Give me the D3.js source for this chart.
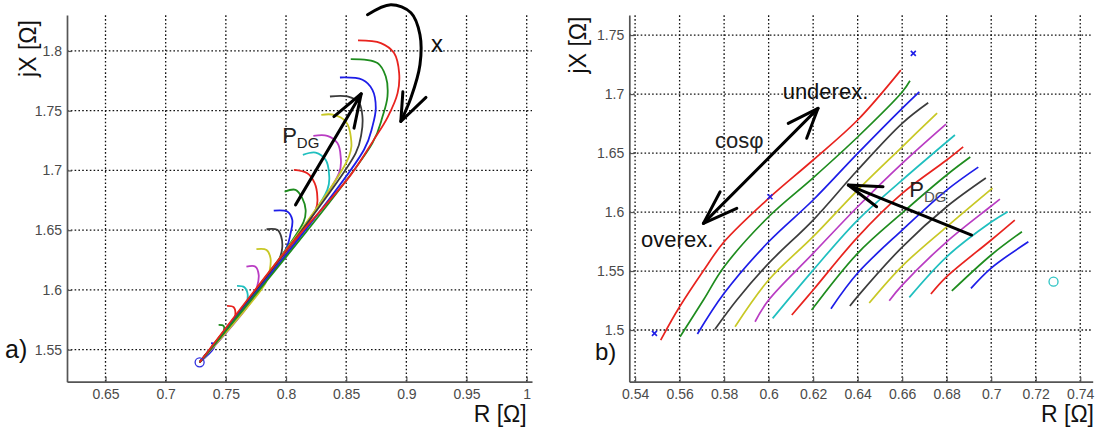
<!DOCTYPE html>
<html>
<head>
<meta charset="utf-8">
<script src="https://cdn.jsdelivr.net/npm/d3@7"></script>
<style>
  body { margin: 0; background: #fff; }
  svg { font-family: "Liberation Sans", Arial, sans-serif; }
</style>
</head>
<body>
<svg id="chart" width="1096" height="428"></svg>
<script>
// Impedance trajectories, panel a) and b)

// Tick values for both panels
var xTicksA = [0.65, 0.7, 0.75, 0.8, 0.85, 0.9, 0.95, 1];
var yTicksA = [1.55, 1.6, 1.65, 1.7, 1.75, 1.8];
var xTicksB = [0.54, 0.56, 0.58, 0.6, 0.62, 0.64, 0.66, 0.68, 0.7, 0.72, 0.74];
var yTicksB = [1.5, 1.55, 1.6, 1.65, 1.7, 1.75];

// axis limits
var xLimA = [0.618, 1.0044];
var yLimA = [1.5232, 1.8301];
var xLimB = [0.5374, 0.7456];
var yLimB = [1.4562, 1.767];

// matlab colour order r g b k y m c
var lineColors = ["#e8231e", "#1e8c1e", "#1d1de8", "#3c3c3c", "#c8c825", "#b93cc3", "#1fbfbf"];

// panel a) : common start point, then each curve [R, X]
var startA = [0.7282, 1.5394];
var curvesA = [
  [[0.8038, 1.6377], [0.8329, 1.6712], [0.8538, 1.6963], [0.8729, 1.7256], [0.8846, 1.7449], [0.8927, 1.7647], [0.8940, 1.7815], [0.8898, 1.7982], [0.8788, 1.8066], [0.8598, 1.8088]],
  [[0.8718, 1.7229], [0.8802, 1.7451], [0.8843, 1.7619], [0.8829, 1.7786], [0.8760, 1.7899], [0.8538, 1.7932]],
  [[0.8648, 1.7173], [0.8718, 1.7368], [0.8746, 1.7522], [0.8718, 1.7675], [0.8635, 1.7759], [0.8448, 1.7778]],
  [[0.8579, 1.7145], [0.8627, 1.7312], [0.8635, 1.7451], [0.8607, 1.7564], [0.8510, 1.7619], [0.8365, 1.7619]],
  [[0.8523, 1.7116], [0.8538, 1.7284], [0.8496, 1.7410], [0.8398, 1.7466], [0.8293, 1.7466]],
  [[0.8440, 1.6977], [0.8454, 1.7116], [0.8427, 1.7229], [0.8343, 1.7290], [0.8227, 1.7290]],
  [[0.8343, 1.6838], [0.8357, 1.6977], [0.8329, 1.7089], [0.8246, 1.7150], [0.8140, 1.7131]],
  [[0.8246, 1.6670], [0.8260, 1.6781], [0.8238, 1.6894], [0.8177, 1.6977], [0.8065, 1.7005]],
  [[0.8146, 1.6570], [0.8163, 1.6670], [0.8135, 1.6768], [0.8079, 1.6838], [0.7988, 1.6823]],
  [[0.7996, 1.6335], [0.8038, 1.6475], [0.8052, 1.6586], [0.8010, 1.6656], [0.7898, 1.6664]],
  [[0.7940, 1.6251], [0.7968, 1.6349], [0.7960, 1.6446], [0.7927, 1.6503], [0.7838, 1.6508]],
  [[0.7829, 1.6056], [0.7865, 1.6168], [0.7871, 1.6266], [0.7838, 1.6335], [0.7754, 1.6341]],
  [[0.7718, 1.5916], [0.7760, 1.6028], [0.7773, 1.6126], [0.7746, 1.6195], [0.7671, 1.6195]],
  [[0.7663, 1.5860], [0.7682, 1.5958], [0.7654, 1.6023], [0.7593, 1.6034]],
  [[0.7552, 1.5721], [0.7579, 1.5791], [0.7565, 1.5855], [0.7510, 1.5866]],
  [[0.7468, 1.5623], [0.7482, 1.5651], [0.7482, 1.5698], [0.7440, 1.5707]],
  [[0.7398, 1.5512], [0.7404, 1.5548], [0.7377, 1.5554]]
];

// panel b) curves [R, X]
var curvesB = [
  [[0.5515, 1.4915], [0.56, 1.5197], [0.5707, 1.5503], [0.58, 1.5748], [0.60, 1.6116], [0.62, 1.6441], [0.64, 1.6780], [0.6594, 1.7203]],
  [[0.5602, 1.4943], [0.5707, 1.5254], [0.58, 1.5536], [0.60, 1.5960], [0.62, 1.6290], [0.64, 1.6636], [0.66, 1.7017], [0.6635, 1.7113]],
  [[0.5680, 1.4966], [0.58, 1.5311], [0.60, 1.5748], [0.62, 1.6102], [0.64, 1.6497], [0.66, 1.6879], [0.6677, 1.7019]],
  [[0.5759, 1.5006], [0.5857, 1.5254], [0.60, 1.5565], [0.62, 1.5932], [0.64, 1.6356], [0.66, 1.6752], [0.6717, 1.6926]],
  [[0.5849, 1.5028], [0.60, 1.5424], [0.62, 1.5791], [0.64, 1.6186], [0.66, 1.6553], [0.6757, 1.6839]],
  [[0.5939, 1.5070], [0.60, 1.5254], [0.62, 1.5650], [0.64, 1.6045], [0.66, 1.6413], [0.6797, 1.6746]],
  [[0.6018, 1.5099], [0.62, 1.5508], [0.64, 1.5932], [0.66, 1.6271], [0.6837, 1.6653]],
  [[0.6104, 1.5127], [0.62, 1.5339], [0.64, 1.5788], [0.66, 1.6158], [0.68, 1.6441], [0.6874, 1.6553]],
  [[0.6193, 1.5169], [0.64, 1.5650], [0.66, 1.5992], [0.68, 1.6314], [0.6906, 1.6466]],
  [[0.6280, 1.5181], [0.64, 1.5483], [0.66, 1.5847], [0.68, 1.6186], [0.6942, 1.6381]],
  [[0.6365, 1.5203], [0.64, 1.5285], [0.66, 1.5703], [0.68, 1.6045], [0.6976, 1.6288]],
  [[0.6452, 1.5229], [0.66, 1.5542], [0.68, 1.5875], [0.7006, 1.6203]],
  [[0.6542, 1.5248], [0.66, 1.5380], [0.68, 1.5748], [0.70, 1.6051], [0.7039, 1.6110]],
  [[0.6632, 1.5277], [0.68, 1.5621], [0.70, 1.5915], [0.7074, 1.6003]],
  [[0.6729, 1.5305], [0.68, 1.5452], [0.70, 1.5763], [0.7106, 1.5932]],
  [[0.6823, 1.5331], [0.70, 1.5636], [0.7138, 1.5833]],
  [[0.6909, 1.5353], [0.70, 1.5525], [0.7167, 1.5748]]
];

// markers in panel b)
var crossesB = [[0.5487, 1.4972], [0.6006, 1.6130], [0.6650, 1.7345]];
var circleB = [0.7280, 1.5410];

// annotation arrows, in data units of each panel
var arrowPdgA = [[0.8079, 1.6712], [0.8625, 1.7642]];
var arrowPdgHeadA = [[0.8398, 1.7451], [0.8625, 1.7642], [0.8565, 1.7354]];
var arcXA = [[0.8677, 1.8303], [0.8871, 1.8387], [0.9038, 1.8320], [0.9113, 1.8136], [0.9113, 1.7885], [0.9038, 1.7608], [0.8954, 1.7410]];
var arcHeadA = [[0.8971, 1.7658], [0.8954, 1.7410], [0.9163, 1.7611]];
var arrowCosB = [[0.5707, 1.5904], [0.6222, 1.6879]];
var cosHeadUpB = [[0.6088, 1.6752], [0.6222, 1.6879], [0.6171, 1.6625]];
var cosHeadLowB = [[0.5782, 1.6172], [0.5707, 1.5904], [0.5857, 1.6031]];
var arrowPdgB = [[0.6912, 1.5805], [0.6358, 1.6229]];
var arrowPdgHeadB = [[0.6514, 1.6214], [0.6358, 1.6229], [0.6485, 1.6045]];

var svg = d3.select("#chart");

// scales
var xA = d3.scaleLinear().domain(xLimA).range([67, 532]);
var yA = d3.scaleLinear().domain(yLimA).range([381.7, 15]);
var xB = d3.scaleLinear().domain(xLimB).range([629.3, 1092.7]);
var yB = d3.scaleLinear().domain(yLimB).range([381.7, 15]);

// grid + axes for one panel
function drawFrame(x, y, xTicks, yTicks) {
  var grid = svg.append("g").attr("class", "grid");
  grid
    .selectAll(".gx")
    .data(xTicks)
    .enter()
    .append("line")
    .attr("x1", function(d) { return x(d); })
    .attr("x2", function(d) { return x(d); })
    .attr("y1", y.range()[0])
    .attr("y2", y.range()[1])
    .attr("stroke", "#111")
    .attr("stroke-width", 1.3)
    .attr("stroke-dasharray", "1.6,2.2");
  grid
    .selectAll(".gy")
    .data(yTicks)
    .enter()
    .append("line")
    .attr("x1", x.range()[0])
    .attr("x2", x.range()[1])
    .attr("y1", function(d) { return y(d); })
    .attr("y2", function(d) { return y(d); })
    .attr("stroke", "#111")
    .attr("stroke-width", 1.3)
    .attr("stroke-dasharray", "1.6,2.2");

  var ax = svg
    .append("g")
    .attr("transform", "translate(0," + y.range()[0] + ")")
    .call(d3.axisBottom(x).tickValues(xTicks).tickSize(-5).tickSizeOuter(0).tickPadding(7).tickFormat(d3.format("")));
  var ay = svg
    .append("g")
    .attr("transform", "translate(" + x.range()[0] + ",0)")
    .call(d3.axisLeft(y).tickValues(yTicks).tickSize(-5).tickSizeOuter(0).tickPadding(5).tickFormat(d3.format("")));
  [ax, ay].forEach(function(a) {
    a.attr("font-size", 14).attr("font-family", "Liberation Sans, Arial, sans-serif");
    a.select(".domain").attr("stroke", "#555").attr("stroke-width", 1.7);
    a.selectAll(".tick line").attr("stroke", "#555").attr("stroke-width", 1.2);
    a.selectAll(".tick text").attr("fill", "#4a4a4a");
  });
}

drawFrame(xA, yA, xTicksA, yTicksA);
drawFrame(xB, yB, xTicksB, yTicksB);

// line generators
var lineA = d3
  .line()
  .x(function(d) { return xA(d[0]); })
  .y(function(d) { return yA(d[1]); })
  .curve(d3.curveCatmullRom.alpha(0.5));

var lineB = d3
  .line()
  .x(function(d) { return xB(d[0]); })
  .y(function(d) { return yB(d[1]); })
  .curve(d3.curveCatmullRom.alpha(0.5));

// panel a) curves, drawn small ones first so red ends on top
svg
  .append("g")
  .selectAll("path")
  .data(curvesA.map(function(c, i) { return { pts: [startA].concat(c), i: i }; }).reverse())
  .enter()
  .append("path")
  .attr("d", function(d) { return lineA(d.pts); })
  .attr("fill", "none")
  .attr("stroke", function(d) { return lineColors[d.i % 7]; })
  .attr("stroke-width", 1.8);

svg
  .append("circle")
  .attr("cx", xA(startA[0]))
  .attr("cy", yA(startA[1]))
  .attr("r", 4.5)
  .attr("fill", "none")
  .attr("stroke", "#3030e0")
  .attr("stroke-width", 1.3);

// panel b) curves
svg
  .append("g")
  .selectAll("path")
  .data(curvesB)
  .enter()
  .append("path")
  .attr("d", function(d) { return lineB(d); })
  .attr("fill", "none")
  .attr("stroke", function(d, i) { return lineColors[i % 7]; })
  .attr("stroke-width", 1.7);

// blue crosses
svg
  .append("g")
  .selectAll("path")
  .data(crossesB)
  .enter()
  .append("path")
  .attr("d", function(d) {
    var cx = xB(d[0]), cy = yB(d[1]), s = 2.5;
    return "M" + (cx - s) + "," + (cy - s) + "L" + (cx + s) + "," + (cy + s) +
      "M" + (cx - s) + "," + (cy + s) + "L" + (cx + s) + "," + (cy - s);
  })
  .attr("stroke", "#2020e8")
  .attr("stroke-width", 1.6);

svg
  .append("circle")
  .attr("cx", xB(circleB[0]))
  .attr("cy", yB(circleB[1]))
  .attr("r", 4.5)
  .attr("fill", "none")
  .attr("stroke", "#2cc4c4")
  .attr("stroke-width", 1.3);

// annotation arrows
var straightA = d3.line().x(function(d) { return xA(d[0]); }).y(function(d) { return yA(d[1]); });
var straightB = d3.line().x(function(d) { return xB(d[0]); }).y(function(d) { return yB(d[1]); });

var arrowsA = [arrowPdgA, arrowPdgHeadA, arcHeadA];
var arrowsB = [arrowCosB, cosHeadUpB, cosHeadLowB, arrowPdgB, arrowPdgHeadB];

svg
  .append("g")
  .selectAll("path")
  .data(arrowsA)
  .enter()
  .append("path")
  .attr("d", straightA)
  .attr("fill", "none")
  .attr("stroke", "#000")
  .attr("stroke-width", 3)
  .attr("stroke-linecap", "round")
  .attr("stroke-linejoin", "round");

svg
  .append("path")
  .datum(arcXA)
  .attr("d", lineA)
  .attr("fill", "none")
  .attr("stroke", "#000")
  .attr("stroke-width", 3)
  .attr("stroke-linecap", "round");

svg
  .append("g")
  .selectAll("path")
  .data(arrowsB)
  .enter()
  .append("path")
  .attr("d", straightB)
  .attr("fill", "none")
  .attr("stroke", "#000")
  .attr("stroke-width", 3)
  .attr("stroke-linecap", "round")
  .attr("stroke-linejoin", "round");

// texts in panel a)
svg
  .append("text")
  .attr("x", xA(0.9204))
  .attr("y", yA(1.7993))
  .style("font-size", "24px")
  .attr("fill", "#111")
  .text("x");

var pA = svg
  .append("text")
  .attr("x", xA(0.7968))
  .attr("y", yA(1.7230))
  .style("font-size", "22px")
  .attr("fill", "#222")
  .text("P");
pA.append("tspan").attr("dy", 5).style("font-size", "15px").text("DG");

// texts in panel b)
svg.append("text").attr("x", xB(0.6063)).attr("y", yB(1.6955)).style("font-size", "22px").attr("fill", "#111").text("underex.");
svg.append("text").attr("x", xB(0.5759)).attr("y", yB(1.6540)).style("font-size", "22px").attr("fill", "#222").text("cosφ");
svg.append("text").attr("x", xB(0.5427)).attr("y", yB(1.5701)).style("font-size", "22px").attr("fill", "#111").text("overex.");

var pB = svg
  .append("text")
  .attr("x", xB(0.6632))
  .attr("y", yB(1.6130))
  .style("font-size", "22px")
  .attr("fill", "#222")
  .text("P");
pB.append("tspan").attr("dy", 5).style("font-size", "15px").attr("fill", "#555").text("DG");

// axis labels
svg.append("text").attr("x", 526.7).attr("y", 422).style("font-size", "23px").style("text-anchor", "end").attr("fill", "#111").text("R [Ω]");
svg.append("text").attr("x", 1094).attr("y", 422).style("font-size", "23px").style("text-anchor", "end").attr("fill", "#111").text("R [Ω]");

svg
  .append("text")
  .attr("transform", "translate(36,48.5) rotate(-90)")
  .style("font-size", "23px")
  .style("text-anchor", "middle")
  .attr("fill", "#111")
  .text("jX [Ω]");

svg
  .append("text")
  .attr("transform", "translate(586,45) rotate(-90)")
  .style("font-size", "23px")
  .style("text-anchor", "middle")
  .attr("fill", "#111")
  .text("jX [Ω]");

// panel letters
svg.append("text").attr("x", 5).attr("y", 358).style("font-size", "25px").attr("fill", "#111").text("a)");
svg.append("text").attr("x", 595).attr("y", 360).style("font-size", "24px").attr("fill", "#111").text("b)");
</script>
</body>
</html>
